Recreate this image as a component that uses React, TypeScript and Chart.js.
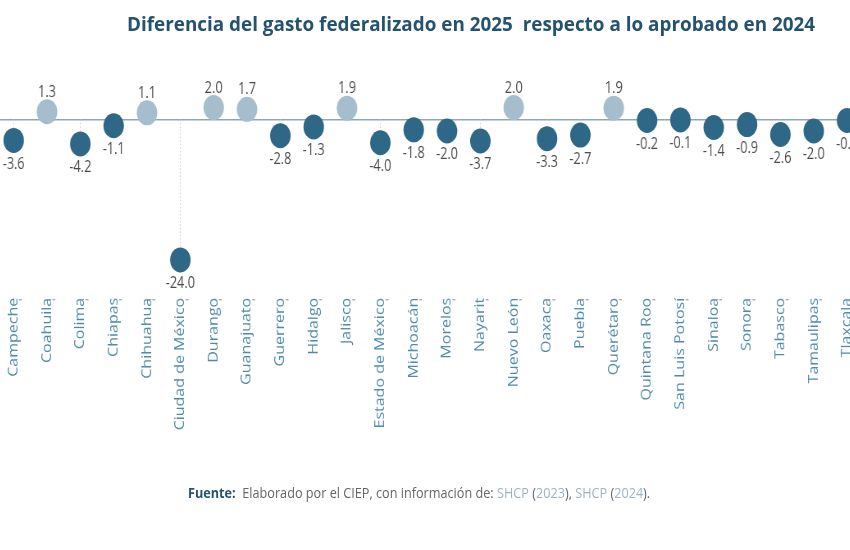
import React, { useEffect, useLayoutEffect, useRef, useState } from 'react';
import { Chart, registerables } from 'chart.js';

Chart.register(...registerables);

const states: string[] = [
  'Campeche', 'Coahuila', 'Colima', 'Chiapas', 'Chihuahua', 'Ciudad de México',
  'Durango', 'Guanajuato', 'Guerrero', 'Hidalgo', 'Jalisco', 'Estado de México',
  'Michoacán', 'Morelos', 'Nayarit', 'Nuevo León', 'Oaxaca', 'Puebla', 'Querétaro',
  'Quintana Roo', 'San Luis Potosí', 'Sinaloa', 'Sonora', 'Tabasco', 'Tamaulipas', 'Tlaxcala',
];

const diferencia: number[] = [
  -3.6, 1.3, -4.2, -1.1, 1.1, -24.0, 2.0, 1.7, -2.8, -1.3, 1.9, -4.0, -1.8,
  -2.0, -3.7, 2.0, -3.3, -2.7, 1.9, -0.2, -0.1, -1.4, -0.9, -2.6, -2.0, -0.2,
];

const Y_MIN = -25;
const Y_MAX = 3;

const TITLE = 'Diferencia del gasto federalizado en 2025  respecto a lo aprobado en 2024';

const DARK = '#2e6886';
const LIGHT = '#a5bdcc';
const LABEL = '#4b4b4b';
const TICK = '#4f8ba7';
const ZERO = '#8ea7b7';
const TITLE_C = '#23536f';

// horizontal squeeze of the whole chart (reference looks compressed)
const S = 0.82;
const CSS_W = 866.7;
const INT_W = Math.round(CSS_W / S);
const H = 550;
const ZERO_Y = 119.3;
const PX_PER_UNIT = 5.86;
const TOP = ZERO_Y - Y_MAX * PX_PER_UNIT;
const BOTTOM = ZERO_Y - Y_MIN * PX_PER_UNIT;

const stemsPlugin = {
  id: 'stems',
  beforeDatasetsDraw(chart: any) {
    const { ctx, scales } = chart;
    const x = scales.x, y = scales.y;
    ctx.save();
    ctx.strokeStyle = '#c9c9c9';
    ctx.lineWidth = 1;
    ctx.setLineDash([1.5, 2]);
    const y0 = y.getPixelForValue(0);
    diferencia.forEach((v, i) => {
      const px = x.getPixelForValue(i);
      ctx.beginPath();
      ctx.moveTo(px, y0);
      ctx.lineTo(px, y.getPixelForValue(v));
      ctx.stroke();
    });
    ctx.restore();
  },
};

const labelsPlugin = {
  id: 'valueLabels',
  afterDatasetsDraw(chart: any) {
    const { ctx } = chart;
    const meta = chart.getDatasetMeta(0);
    ctx.save();
    ctx.fillStyle = LABEL;
    ctx.font = '15.5px "Open Sans"';
    ctx.textAlign = 'center';
    ctx.textBaseline = 'middle';
    meta.data.forEach((pt: any, i: number) => {
      const v = diferencia[i];
      const ty = v >= 0 ? pt.y - 19.5 : pt.y + 24;
      ctx.fillText(v.toFixed(1), pt.x, ty);
    });
    ctx.restore();
  },
};

const tickDashPlugin = {
  id: 'tickDash',
  afterDraw(chart: any) {
    const { ctx, scales, chartArea } = chart;
    const x = scales.x;
    ctx.save();
    ctx.strokeStyle = '#8a8a8a';
    ctx.lineWidth = 1;
    const yy = chartArea.bottom + 34;
    states.forEach((_, i) => {
      const px = x.getPixelForValue(i);
      ctx.beginPath();
      ctx.moveTo(px + 6.5, yy);
      ctx.lineTo(px + 10, yy);
      ctx.stroke();
    });
    ctx.restore();
  },
};

function FitText({ width, style, children }: { width: number; style: any; children: any }) {
  const ref = useRef<HTMLSpanElement>(null);
  const [scale, setScale] = useState(1);
  useLayoutEffect(() => {
    if (ref.current) {
      const w = ref.current.offsetWidth;
      if (w > 0) setScale(width / w);
    }
  }, [width]);
  return (
    <span
      ref={ref}
      style={{
        ...style,
        position: 'absolute',
        whiteSpace: 'pre',
        display: 'inline-block',
        transform: `scaleX(${scale})`,
        transformOrigin: 'left top',
      }}
    >
      {children}
    </span>
  );
}

export default function App() {
  const canvasRef = useRef<HTMLCanvasElement>(null);

  useEffect(() => {
    if (!canvasRef.current) return;
    const chart = new Chart(canvasRef.current, {
      type: 'line',
      data: {
        labels: states,
        datasets: [
          {
            data: diferencia,
            showLine: false,
            clip: false as any,
            pointRadius: 12.5,
            pointHoverRadius: 12.5,
            pointBorderWidth: 0,
            pointBackgroundColor: diferencia.map((v) => (v >= 0 ? LIGHT : DARK)),
            pointBorderColor: diferencia.map((v) => (v >= 0 ? LIGHT : DARK)),
          },
        ],
      },
      options: {
        animation: false,
        responsive: true,
        maintainAspectRatio: false,
        devicePixelRatio: 1,
        layout: { autoPadding: false, padding: { top: TOP, bottom: 0, left: 0, right: 0 } },
        plugins: {
          legend: { display: false },
          title: { display: false },
          tooltip: { enabled: false },
        },
        events: [],
        scales: {
          x: {
            type: 'category',
            offset: true,
            grid: { display: false, drawTicks: false },
            border: { display: false },
            ticks: {
              autoSkip: false,
              minRotation: 90,
              maxRotation: 90,
              padding: 32,
              color: TICK,
              font: { family: '"Open Sans"', size: 16 },
            },
            afterFit: (scale: any) => {
              scale.height = H - BOTTOM;
              scale.paddingLeft = 0;
              scale.paddingRight = 0;
            },
          },
          y: {
            min: Y_MIN,
            max: Y_MAX,
            ticks: { display: false, stepSize: 1 },
            border: { display: false },
            grid: {
              drawTicks: false,
              lineWidth: 1.5,
              color: (c: any) => (c.tick && c.tick.value === 0 ? ZERO : 'rgba(0,0,0,0)'),
            },
            afterFit: (scale: any) => {
              scale.width = 0;
              scale.paddingTop = 0;
              scale.paddingBottom = 0;
            },
          },
        },
      },
      plugins: [stemsPlugin, labelsPlugin, tickDashPlugin],
    });
    return () => chart.destroy();
  }, []);

  return (
    <div
      style={{
        position: 'fixed',
        left: 0,
        top: 0,
        width: 850,
        height: 550,
        overflow: 'hidden',
        background: '#ffffff',
        fontFamily: '"Open Sans", sans-serif',
      }}
    >
      <div
        style={{
          position: 'absolute',
          left: 14 - CSS_W / states.length / 2,
          top: 0,
          width: INT_W,
          height: H,
          transform: `scaleX(${S})`,
          transformOrigin: 'left top',
        }}
      >
        <canvas ref={canvasRef} />
      </div>
      <FitText
        width={688}
        style={{
          left: 127,
          top: 13,
          fontSize: 20,
          lineHeight: '22px',
          fontWeight: 700,
          color: TITLE_C,
        }}
      >
        {TITLE}
      </FitText>
      <FitText
        width={462}
        style={{
          left: 188,
          top: 482,
          fontSize: 15,
          lineHeight: '20px',
          color: '#666666',
        }}
      >
        <b style={{ color: TITLE_C }}>Fuente:</b>
        {'  Elaborado por el CIEP, con información de: '}
        <span style={{ color: '#9fb4c2' }}>SHCP</span>
        {' ('}
        <span style={{ color: '#9fb4c2' }}>2023</span>
        {'), '}
        <span style={{ color: '#9fb4c2' }}>SHCP</span>
        {' ('}
        <span style={{ color: '#9fb4c2' }}>2024</span>
        {').'}
      </FitText>
    </div>
  );
}
